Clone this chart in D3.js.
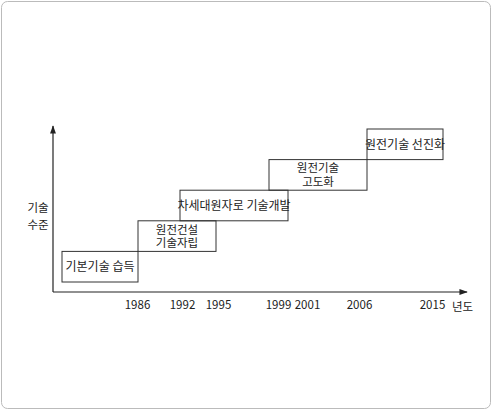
<!DOCTYPE html><html><head><meta charset="utf-8"><script src="https://cdn.jsdelivr.net/npm/d3@7"></script>
<style>body{margin:0;background:#fff}text{font-family:"Noto Sans CJK KR","Noto Sans",sans-serif;fill:#222}</style></head><body><svg id="c" width="492" height="410"></svg><script>
const tickYears=[1986,1992,1995,1999,2001,2006,2015];
const stageLabels=[["기본기술 습득"],["원전건설","기술자립"],["차세대원자로 기술개발"],["원전기술","고도화"],["원전기술 선진화"]];
const stageStart=[1980,1986,1992,1999,2006];
const stageEnd=[1986,1995,2000,2006,2015];
const stageLevel=[0,1,2,3,4];
const svg=d3.select("#c");
svg.append("rect").attr("x",1.5).attr("y",1.5).attr("width",489).attr("height",407).attr("rx",6).attr("fill","none").attr("stroke","#bbb");
const x=d3.scaleLinear().domain([1980,1986,1992,1995,1999,2001,2006,2015]).range([62,138,180,216,269,307,367,443]);
const y=d3.scaleLinear().domain([0,5]).range([282,129]);
const x0=53,yA=292;
svg.append("defs").append("marker").attr("id","ar").attr("viewBox","0 0 10 10").attr("refX",9).attr("refY",5).attr("markerWidth",7).attr("markerHeight",7).attr("orient","auto").append("path").attr("d","M0,1.5L10,5L0,8.5Z").attr("fill","#222");
svg.append("line").attr("x1",x0).attr("y1",yA).attr("x2",x0).attr("y2",126).attr("stroke","#222").attr("stroke-width",1.2).attr("marker-end","url(#ar)");
svg.append("line").attr("x1",x0).attr("y1",yA).attr("x2",467).attr("y2",yA).attr("stroke","#222").attr("stroke-width",1.2).attr("marker-end","url(#ar)");
const lblX={1986:137,1992:182,1995:218,1999:278,2001:307,2006:359,2015:432};
const ax=svg.append("g").attr("transform",`translate(0,${yA})`).call(d3.axisBottom(x).tickValues(tickYears).tickFormat(d3.format("d")).tickSize(0).tickPadding(9));
ax.select(".domain").remove();
ax.selectAll("text").attr("font-size",11.5).attr("font-family","Arial,Liberation Sans,sans-serif").attr("fill","#222").attr("transform",d=>`translate(${lblX[d]-x(d)},0)`);
svg.append("text").attr("x",452).attr("y",311).attr("font-size",11.5).text("년도");
const yl=svg.append("text").attr("x",38).attr("text-anchor","middle").attr("font-size",11.5);
yl.append("tspan").attr("x",38).attr("y",212).text("기술");
yl.append("tspan").attr("x",38).attr("y",229).text("수준");
const g=svg.selectAll("g.s").data(stageLevel.map((l,i)=>({l,i}))).join("g");
g.append("rect").attr("x",d=>x(stageStart[d.i])).attr("width",d=>x(stageEnd[d.i])-x(stageStart[d.i])).attr("y",d=>y(d.l+1)).attr("height",d=>y(d.l)-y(d.l+1)).attr("fill","none").attr("stroke","#333").attr("stroke-width",1);
g.each(function(d){const L=stageLabels[d.i];const cx=(x(stageStart[d.i])+x(stageEnd[d.i]))/2;const cy=(y(d.l)+y(d.l+1))/2;
 L.forEach((t,k)=>d3.select(this).append("text").attr("x",cx).attr("y",cy+(k-(L.length-1)/2)*13.5+4.2).attr("text-anchor","middle").attr("font-size",L.length>1?11.5:12).text(t));});
</script></body></html>
